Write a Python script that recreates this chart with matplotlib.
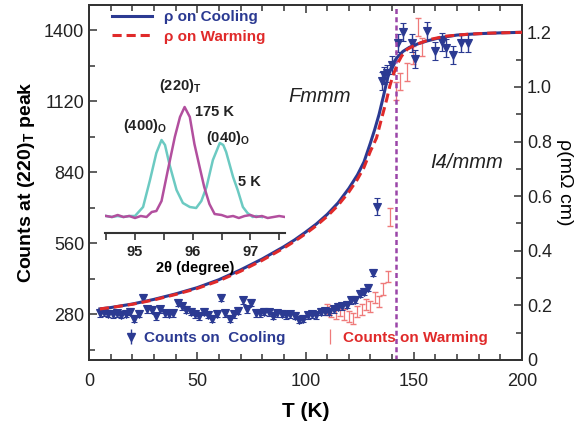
import numpy as np
import matplotlib
matplotlib.use("Agg")
import matplotlib.pyplot as plt
from matplotlib.ticker import MultipleLocator

plt.rcParams['font.family'] = ['Liberation Sans', 'DejaVu Sans']
plt.rcParams['mathtext.fontset'] = 'custom'
plt.rcParams['mathtext.rm'] = 'Liberation Sans'
plt.rcParams['mathtext.bf'] = 'Liberation Sans:bold'
plt.rcParams['mathtext.it'] = 'Liberation Sans:italic'

# ---------------- data ----------------
# resistivity (right axis)
T_rho_cool = [5, 10, 20, 30, 40, 50, 60, 70, 80, 90, 95, 100, 105, 110, 115, 120, 124, 127,
              130, 132, 134, 136, 138, 140, 142, 145, 148, 152, 156, 162, 170, 180, 190, 200]
rho_cool = [0.187, 0.192, 0.205, 0.222, 0.242, 0.265, 0.294, 0.330, 0.370, 0.415, 0.440, 0.468,
            0.498, 0.533, 0.575, 0.628, 0.678, 0.725, 0.795, 0.845, 0.900, 0.966, 1.035, 1.080,
            1.105, 1.130, 1.145, 1.158, 1.168, 1.180, 1.190, 1.195, 1.198, 1.200]
T_rho_warm = [5, 10, 20, 30, 40, 50, 60, 70, 80, 90, 95, 100, 105, 110, 115, 120, 124, 127,
              130, 132.8, 135, 137.5, 139, 140.6, 142.5, 144.4, 147, 151.3, 157.5, 165, 175, 185, 200]
rho_warm = [0.187, 0.192, 0.204, 0.220, 0.240, 0.262, 0.290, 0.325, 0.365, 0.410, 0.435, 0.462,
            0.492, 0.526, 0.566, 0.615, 0.662, 0.705, 0.765, 0.813, 0.880, 0.954, 1.005, 1.046,
            1.085, 1.113, 1.138, 1.156, 1.174, 1.186, 1.193, 1.197, 1.200]

# counts on cooling (left axis)
T_cool_low = [5, 7, 9, 11, 13, 15, 17, 19, 21, 23, 25, 27, 29, 31, 33, 35, 37, 39, 41, 43,
              45, 47, 49, 51, 53, 55, 57, 59, 61, 63, 65, 67, 69, 71, 73, 75, 77, 79, 81, 83,
              85, 87, 89, 91, 93, 95, 97, 99, 101, 103, 105, 107, 109, 111, 113, 115, 117, 119,
              121, 123, 125, 127, 129, 131]
c_cool_low = [285, 288, 282, 280, 284, 278, 282, 290, 262, 282, 345, 300, 298, 272, 300, 285,
              283, 284, 325, 312, 298, 290, 280, 272, 290, 278, 262, 282, 345, 285, 262, 280,
              295, 335, 300, 325, 285, 285, 290, 288, 275, 285, 283, 277, 280, 275, 258, 262,
              277, 280, 277, 290, 292, 290, 300, 310, 312, 318, 336, 338, 362, 370, 385, 445]
T_cool_high = [133.2, 135.2, 136.2, 137.5, 140, 142.9, 145.2, 149, 150.6, 156, 160, 163, 165,
               168, 172, 175]
c_cool_high = [705, 1200, 1222, 1230, 1262, 1350, 1395, 1349, 1287, 1397, 1320, 1355, 1330,
               1303, 1349, 1349]
err_cool_low = 14
err_cool_high = 35

# counts on warming (left axis)
T_warm_low = [110, 112, 114, 116, 118, 120, 122, 124, 126, 128, 130, 132, 134, 136, 138]
c_warm_low = [300, 290, 285, 295, 280, 270, 265, 290, 300, 320, 310, 345, 330, 380, 430]
T_warm_high = [139, 142, 143.6, 146.7, 149.8, 152, 153.6]
c_warm_high = [665, 1160, 1198, 1237, 1303, 1414, 1335]
err_warm_low = 22
err_warm_high = 35

T_transition = 142

# inset: XRD peaks (intensity in arbitrary units)
tt_5K = [94.5, 94.6, 94.7, 94.8, 94.9, 95.0, 95.14, 95.26, 95.37, 95.46, 95.52, 95.6, 95.72,
         95.83, 95.95, 96.06, 96.15, 96.24, 96.35, 96.47, 96.53, 96.58, 96.7, 96.78, 96.87,
         96.95, 97.04, 97.1, 97.2]
I_5K = [1, 0, 1, 0, 1, 1, 10, 37, 64, 77, 72, 52, 27, 14, 10, 9, 16, 30, 57, 74, 72, 65, 40,
        27, 10, 4, 0, 1, 0]
tt_175K = [94.5, 94.6, 94.7, 94.8, 94.9, 95.0, 95.1, 95.2, 95.29, 95.37, 95.46, 95.57, 95.69,
           95.78, 95.86, 95.95, 96.03, 96.12, 96.2, 96.29, 96.38, 96.5, 96.6, 96.7, 96.8,
           96.9, 97.0, 97.1, 97.2, 97.3, 97.4, 97.5, 97.6]
I_175K = [1, 0, 2, 0, 1, -1, 1, 0, 5, 6, 16, 47, 80, 100, 110, 100, 73, 50, 30, 13, 3, 2, 0,
          1, -1, 1, 2, 0, 1, -1, 0, 1, 0]

x_ticks = [0, 50, 100, 150, 200]
left_ticks = [280, 560, 840, 1120, 1400]
right_ticks = [0, 0.2, 0.4, 0.6, 0.8, 1.0, 1.2]
right_labels = ['0', '0.2', '0.4', '0.6', '0.8', '1.0', '1.2']
inset_ticks = [95, 96, 97]

# ---------------- colors ----------------
blue = '#2b3a92'
red = '#e02a2a'
lightred = '#ef7a7a'
purple = '#9a45a8'
cyan = '#6ccac2'
magenta = '#b24f9e'
spine_c = '#333333'

W, H = 584, 424
fig = plt.figure(figsize=(W / 100, H / 100), dpi=100)
ax = fig.add_axes([89 / W, 1 - 360 / H, 433 / W, 355 / H])
ax2 = ax.twinx()

# counts
ax.errorbar(T_cool_low, c_cool_low, yerr=err_cool_low, fmt='v', color=blue, ms=5.5,
            capsize=2.5, elinewidth=1, mew=0.8, zorder=3)
ax.errorbar(T_cool_high, c_cool_high, yerr=err_cool_high, fmt='v', color=blue, ms=5.5,
            capsize=2.5, elinewidth=1, mew=0.8, zorder=3)
ax.errorbar(T_warm_low, c_warm_low, yerr=err_warm_low, fmt='none', ecolor=lightred,
            capsize=2.5, elinewidth=0.9, zorder=2)
ax.errorbar(T_warm_high, c_warm_high, yerr=err_warm_high, fmt='none', ecolor=lightred,
            capsize=2.5, elinewidth=0.9, zorder=2)

ax.set_xlim(0, 200)
ax.set_ylim(100, 1500)
ax.set_xticks(x_ticks)
ax.set_yticks(left_ticks)
ax.xaxis.set_minor_locator(MultipleLocator(10))
ax.yaxis.set_minor_locator(MultipleLocator(140))
ax.tick_params(which='both', direction='in', top=True, labelsize=13, colors=spine_c,
               labelcolor='#222222', width=1.1)
ax.tick_params(which='major', length=6)
ax.tick_params(which='minor', length=4)
ax.tick_params(axis='x', which='major', pad=9)

# resistivity
ax2.plot(T_rho_cool, rho_cool, color=blue, lw=2.2, label='ρ on Cooling', zorder=4)
ax2.plot(T_rho_warm, rho_warm, color=red, lw=2.2, ls=(0, (3, 1.6)), label='ρ on Warming',
         zorder=4)
ax2.axvline(T_transition, color=purple, lw=1.8, ls=(0, (2, 1.3)), zorder=1)
ax2.set_ylim(0, 1.3)
ax2.set_yticks(right_ticks)
ax2.set_yticklabels(right_labels)
ax2.yaxis.set_minor_locator(MultipleLocator(0.1))
ax2.tick_params(which='both', direction='in', labelsize=13, colors=spine_c,
                labelcolor='#222222', width=1.1)
ax2.tick_params(which='major', length=6)
ax2.tick_params(which='minor', length=4)

for a in (ax, ax2):
    for s in a.spines.values():
        s.set_linewidth(1.3)
        s.set_color(spine_c)

ax.set_xlabel('T (K)', fontsize=15, fontweight='bold', labelpad=9)
ax.set_ylabel('Counts at (220)$_{\\mathbf{T}}$ peak', fontsize=14, fontweight='bold', labelpad=5)
ax2.set_ylabel('ρ(mΩ cm)', fontsize=14, rotation=270, labelpad=15)

# legends
leg1 = ax2.legend(loc='upper left', bbox_to_anchor=(0.053, 0.985), frameon=False,
                  handlelength=2.6, handletextpad=0.8, borderpad=0, borderaxespad=0,
                  labelspacing=0.35, prop={'weight': 'bold', 'size': 11})
for t, c in zip(leg1.get_texts(), [blue, red]):
    t.set_color(c)
ax2.add_artist(leg1)

h_cool = ax.errorbar([], [], yerr=[], fmt='v', color=blue, ms=5.5, capsize=2.5, elinewidth=1)
h_warm = ax.errorbar([], [], yerr=[], fmt='none', ecolor=lightred, capsize=2.5, elinewidth=0.9)
leg2 = ax2.legend([h_cool], ['Counts on  Cooling'], loc='center left',
                  bbox_to_anchor=(0.085, 0.062), frameon=False, handlelength=0.7,
                  handletextpad=0.5, borderpad=0, borderaxespad=0,
                  prop={'weight': 'bold', 'size': 11})
leg2.get_texts()[0].set_color(blue)
ax2.add_artist(leg2)
leg3 = ax2.legend([h_warm], ['Counts on Warming'], loc='center left',
                  bbox_to_anchor=(0.545, 0.062), frameon=False, handlelength=0.7,
                  handletextpad=0.5, borderpad=0, borderaxespad=0,
                  prop={'weight': 'bold', 'size': 11})
leg3.get_texts()[0].set_color(red)

# phase labels
fig.text(320 / W, 1 - 97 / H, 'Fmmm', fontsize=14.5, style='italic', ha='center', va='center',
         color='#222222')
fig.text(467 / W, 1 - 163 / H, 'I4/mmm', fontsize=14.5, style='italic', ha='center',
         va='center', color='#222222')

# inset
ins = fig.add_axes([105 / W, 1 - 233 / H, 180 / W, 138 / H])
ins.set_facecolor('none')
ins.plot(tt_5K, I_5K, color=cyan, lw=1.8)
ins.plot(tt_175K, I_175K, color=magenta, lw=1.8)
ins.set_xlim(94.48, 97.6)
ins.set_ylim(-16, 122)
for s in ('left', 'right', 'top'):
    ins.spines[s].set_visible(False)
ins.spines['bottom'].set_linewidth(1.5)
ins.spines['bottom'].set_color(spine_c)
ins.set_yticks([])
ins.set_xticks(inset_ticks)
ins.xaxis.set_minor_locator(MultipleLocator(0.5))
ins.tick_params(which='both', direction='out', length=5, width=1.2, colors=spine_c,
                labelcolor='#222222', labelsize=10.5, pad=4)
for lab in ins.get_xticklabels():
    lab.set_fontweight('bold')
ins.set_xlabel('2θ (degree)', fontsize=10.5, fontweight='bold', labelpad=1)

tk = dict(fontsize=10.5, fontweight='bold', color='#222222', va='center')
fig.text(180 / W, 1 - 86 / H, '(220)$_{\\mathbf{T}}$', ha='center', **tk)
fig.text(195 / W, 1 - 112 / H, '175 K', ha='left', **tk)
fig.text(145 / W, 1 - 126 / H, '(400)$_{\\mathbf{O}}$', ha='center', **tk)
fig.text(228 / W, 1 - 138 / H, '(040)$_{\\mathbf{O}}$', ha='center', **tk)
fig.text(238 / W, 1 - 182 / H, '5 K', ha='left', **tk)

fig.savefig('out.png', dpi=100)
